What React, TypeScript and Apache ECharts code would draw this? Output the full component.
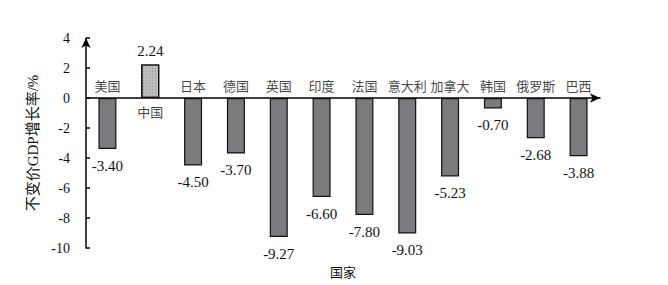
import React, { useEffect, useRef } from "react";
import * as echarts from "echarts";

const categories = ["美国", "中国", "日本", "德国", "英国", "印度", "法国", "意大利", "加拿大", "韩国", "俄罗斯", "巴西"];
const growth = [-3.4, 2.24, -4.5, -3.7, -9.27, -6.6, -7.8, -9.03, -5.23, -0.7, -2.68, -3.88];
const yTicks = { min: -10, max: 4, interval: 2 };
const yName = "不变价GDP增长率/%";
const xName = "国家";

const FONT = "'Liberation Serif', 'Noto Sans CJK SC', serif";

export default function App() {
  const ref = useRef<HTMLDivElement>(null);
  useEffect(() => {
    const chart = echarts.init(ref.current!, null, { renderer: "svg" });
    chart.setOption({
      animation: false,
      backgroundColor: "#ffffff",
      textStyle: { fontFamily: FONT },
      grid: { left: 78, top: 30, width: 514, height: 210, containLabel: false, outerBoundsMode: "none" },
      graphic: [
        {
          type: "text",
          x: 335,
          y: 264,
          style: {
            text: xName,
            fontFamily: FONT,
            fontSize: 13,
            fill: "#111",
            textAlign: "center",
            textVerticalAlign: "middle",
          },
        },
      ],
      xAxis: {
        type: "category",
        data: categories,
        axisLine: { onZero: true, lineStyle: { color: "#000", width: 1.5 }, symbol: ["none", "arrow"], symbolSize: [7, 10] },
        axisTick: { show: false },
        axisLabel: { show: false },
        splitLine: { show: false },
      },
      yAxis: {
        type: "value",
        min: yTicks.min,
        max: yTicks.max,
        interval: yTicks.interval,
        name: yName,
        nameLocation: "middle",
        nameGap: 46,
        nameRotate: 90,
        nameTextStyle: { fontFamily: FONT, fontSize: 15, color: "#111" },
        axisLine: { show: true, lineStyle: { color: "#000", width: 1.5 }, symbol: ["none", "arrow"], symbolSize: [7, 10] },
        axisTick: { show: true, inside: true, length: 4, lineStyle: { color: "#000", width: 1.5 } },
        axisLabel: { margin: 16, fontFamily: FONT, fontSize: 14, color: "#111" },
        splitLine: { show: false },
      },
      series: [
        {
          type: "bar",
          barWidth: 18,
          data: growth.map((v) => ({
            value: v,
            itemStyle: {
              color: v >= 0 ? "#bdbdbd" : "#7b7b7f",
              borderColor: "#111",
              borderWidth: 1.2,
              decal: v >= 0 ? { symbol: "rect", symbolSize: 1, color: "rgba(110,110,110,0.45)", dashArrayX: [1, 2], dashArrayY: [1, 2], rotation: 0 } : undefined,
            },
            label: {
              show: true,
              position: v >= 0 ? "top" : "bottom",
              distance: v >= 0 ? 6 : 9,
            },
          })),
          label: {
            show: true,
            fontFamily: FONT,
            fontSize: 15,
            color: "#111",
            formatter: (p: any) => Number(p.value).toFixed(2),
          },
        },
        {
          type: "scatter",
          symbolSize: 0,
          silent: true,
          data: growth.map((v, i) => ({
            value: [categories[i], 0],
            label: {
              show: true,
              position: v >= 0 ? "bottom" : "top",
              distance: v >= 0 ? 8 : 5,
              formatter: categories[i],
              fontFamily: FONT,
              fontSize: 13,
              color: "#111",
            },
          })),
        },
      ],
    });
    return () => chart.dispose();
  }, []);
  return <div ref={ref} style={{ width: 652, height: 277 }} />;
}
